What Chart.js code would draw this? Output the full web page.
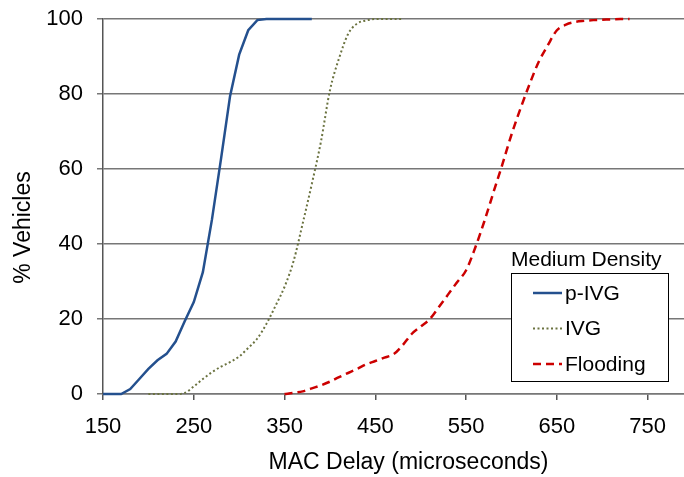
<!DOCTYPE html>
<html>
<head>
<meta charset="utf-8">
<script src="https://cdn.jsdelivr.net/npm/chart.js@4/dist/chart.umd.min.js"></script>
<style>
  html, body { margin: 0; padding: 0; background: #fff; overflow: hidden; }
  #wrap { width: 684px; height: 477px; }
</style>
</head>
<body>
<div id="wrap"><canvas id="chart"></canvas></div>
<script>
const delayTicks = [150, 250, 350, 450, 550, 650, 750];
const pctTicks = [0, 20, 40, 60, 80, 100];

const pivgDelay = [150, 160, 170, 180, 190, 200, 210, 220, 230, 240, 250, 260, 270, 280, 290, 300, 310, 320, 330, 340, 350, 360, 370, 380];
const pivgPct = [0, 0, 0, 1.3, 4, 6.7, 9, 10.7, 14, 19.4, 24.5, 32.5, 46.5, 62.7, 79.5, 90.5, 97, 99.7, 100, 100, 100, 100, 100, 100];

const ivgDelay = [200, 210, 220, 230, 240, 250, 260, 270, 280, 290, 300, 310, 320, 330, 340, 350, 360, 370, 380, 390, 400, 410, 420, 430, 440, 450, 460, 470, 480];
const ivgPct = [0, 0, 0, 0, 0.3, 2, 4, 5.8, 7.3, 8.5, 10, 12.3, 14.8, 18.7, 23.5, 28.6, 35.5, 45.5, 56, 67.2, 81, 89.5, 96, 98.8, 99.6, 100, 100, 100, 100];

const floodDelay = [350, 360, 370, 380, 390, 400, 410, 420, 430, 440, 450, 460, 470, 480, 490, 500, 510, 520, 530, 540, 550, 560, 570, 580, 590, 600, 610, 620, 630, 640, 650, 660, 670, 680, 690, 700, 710, 720, 730];
const floodPct = [0, 0.3, 0.7, 1.5, 2.3, 3.3, 4.5, 5.6, 6.7, 7.9, 8.8, 9.7, 10.6, 13, 16, 18, 20, 23.2, 26.5, 29.8, 33, 39, 46, 53.7, 61.3, 69.2, 76.2, 82.7, 88.6, 93, 97, 98.5, 99.2, 99.5, 99.7, 99.8, 99.9, 100, 100];

const toPoints = (xs, ys) => xs.map((x, i) => ({ x: x, y: ys[i] }));

const FONT = '"Liberation Sans", Arial, sans-serif';

// legend drawn inside the plot, with its title above the box
const boxLegend = {
  id: 'boxLegend',
  afterDraw(chart) {
    const ctx = chart.ctx;
    const a = chart.chartArea;
    const bx = a.right - 173, by = a.top + 254, bw = 157, bh = 108;
    ctx.save();
    ctx.fillStyle = '#fff';
    ctx.fillRect(bx, by, bw, bh);
    ctx.strokeStyle = '#000';
    ctx.lineWidth = 1;
    ctx.strokeRect(bx + 0.5, by + 0.5, bw, bh);
    ctx.font = '21px ' + FONT;
    ctx.fillStyle = '#000';
    ctx.textBaseline = 'alphabetic';
    ctx.fillText('Medium Density', bx, by - 7);
    ctx.textBaseline = 'middle';
    chart.data.datasets.forEach((ds, i) => {
      const y = by + 20 + i * 35.5;
      ctx.beginPath();
      ctx.setLineDash(ds.borderDash || []);
      ctx.strokeStyle = ds.borderColor;
      ctx.lineWidth = ds.borderWidth;
      ctx.moveTo(bx + 22, y);
      ctx.lineTo(bx + 51, y);
      ctx.stroke();
      ctx.setLineDash([]);
      ctx.fillText(ds.label, bx + 54, y + 1);
    });
    ctx.restore();
  }
};

// axis titles, placed like the original
const axisTitles = {
  id: 'axisTitles',
  afterDraw(chart) {
    const ctx = chart.ctx;
    const a = chart.chartArea;
    ctx.save();
    ctx.font = '23px ' + FONT;
    ctx.fillStyle = '#000';
    ctx.textAlign = 'center';
    ctx.textBaseline = 'middle';
    ctx.fillText('MAC Delay (microseconds)', (a.left + a.right) / 2 + 15, a.bottom + 69);
    ctx.translate(24, (a.top + a.bottom) / 2 + 21);
    ctx.rotate(-Math.PI / 2);
    ctx.fillText('% Vehicles', 0, 0);
    ctx.restore();
  }
};

new Chart(document.querySelector('#chart').getContext('2d'), {
  type: 'line',
  data: {
    datasets: [
      {
        label: 'p-IVG',
        data: toPoints(pivgDelay, pivgPct),
        borderColor: '#24508e',
        borderWidth: 2.5,
        pointRadius: 0,
        tension: 0,
        clip: false
      },
      {
        label: 'IVG',
        data: toPoints(ivgDelay, ivgPct),
        borderColor: '#6b7340',
        borderWidth: 2,
        borderDash: [2, 2.5],
        pointRadius: 0,
        cubicInterpolationMode: 'monotone',
        clip: false
      },
      {
        label: 'Flooding',
        data: toPoints(floodDelay, floodPct),
        borderColor: '#cc0000',
        borderWidth: 2.5,
        borderDash: [8, 5],
        pointRadius: 0,
        cubicInterpolationMode: 'monotone',
        clip: false
      }
    ]
  },
  options: {
    responsive: true,
    maintainAspectRatio: false,
    animation: false,
    layout: { padding: { top: 19, right: 0, left: 0, bottom: 0 } },
    plugins: { legend: { display: false }, tooltip: { enabled: false } },
    scales: {
      x: {
        type: 'linear',
        min: 150,
        max: 790,
        afterBuildTicks: s => { s.ticks = delayTicks.map(v => ({ value: v })); },
        afterFit: s => { s.height = 83; s.paddingLeft = 0; s.paddingRight = 0; },
        grid: { drawOnChartArea: false, tickLength: 6, color: '#555', lineWidth: 1.5 },
        border: { color: '#777', width: 1.5, z: -1 },
        ticks: { font: { family: FONT, size: 22 }, color: '#000', padding: 14, maxRotation: 0 }
      },
      y: {
        min: 0,
        max: 100,
        afterBuildTicks: s => { s.ticks = pctTicks.map(v => ({ value: v })); },
        afterFit: s => { s.width = 103; s.paddingTop = 0; s.paddingBottom = 0; },
        grid: { color: '#777', lineWidth: 1.5, tickLength: 6 },
        border: { color: '#555', width: 1.5 },
        ticks: { font: { family: FONT, size: 22 }, color: '#000', padding: 14 }
      }
    }
  },
  plugins: [boxLegend, axisTitles]
});
</script>
</body>
</html>
